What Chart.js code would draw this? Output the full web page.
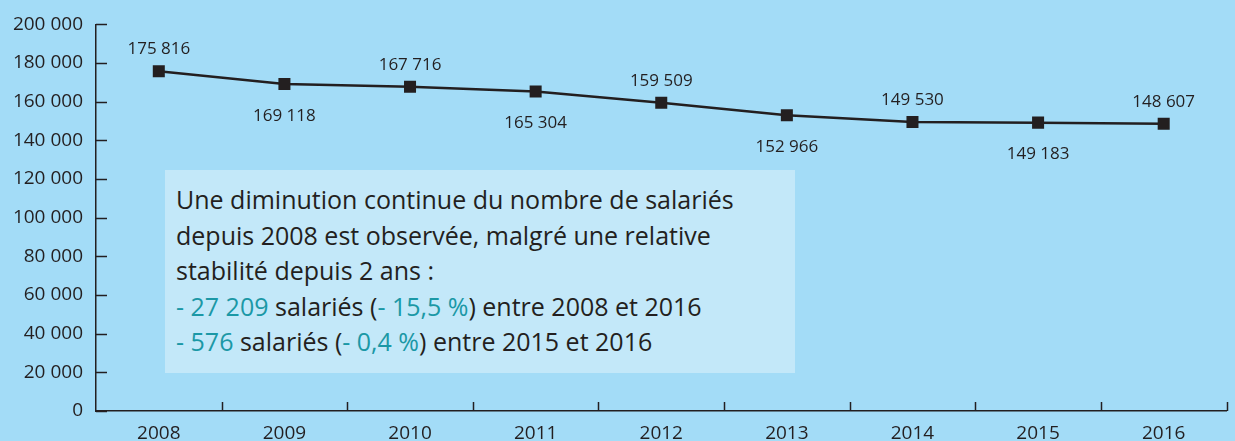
<!DOCTYPE html>
<html>
<head>
<meta charset="utf-8">
<script src="https://cdn.jsdelivr.net/npm/chart.js@4.4.1/dist/chart.umd.min.js"></script>
<style>
  html, body { margin: 0; padding: 0; background: #a3dcf7; }
  #wrap { position: relative; width: 1235px; height: 441px; overflow: hidden; }
  #salaries-chart { position: absolute; left: 0; top: 0; }
  .note {
    position: absolute; left: 165px; top: 170px; width: 630px; height: 203px;
    box-sizing: border-box; padding: 12px 0 0 11px;
    background: #c3e8f9; color: #231f20;
    font-family: "Open Sans", sans-serif; font-size: 25px; line-height: 35.5px;
    white-space: nowrap;
  }
  .note .hl { color: #1b98a6; }
</style>
</head>
<body>
<div id="wrap">
  <canvas id="salaries-chart" width="1235" height="441"></canvas>
  <div class="note" id="note"></div>
</div>
<script>
// données
const years = ['2008', '2009', '2010', '2011', '2012', '2013', '2014', '2015', '2016'];
const salaries = [175816, 169118, 167716, 165304, 159509, 152966, 149530, 149183, 148607];
const labelAbove = [true, false, true, false, true, false, true, false, true];
const yTicks = [0, 20000, 40000, 60000, 80000, 100000, 120000, 140000, 160000, 180000, 200000];

// texte de l'encadré : [texte, surligné ?]
const noteLines = [
  [['Une diminution continue du nombre de salariés', false]],
  [['depuis 2008 est observée, malgré une relative', false]],
  [['stabilité depuis 2 ans :', false]],
  [['- 27 209', true], [' salariés (', false], ['- 15,5 %', true], [') entre 2008 et 2016', false]],
  [['- 576', true], [' salariés (', false], ['- 0,4 %', true], [') entre 2015 et 2016', false]]
];

const dark = '#231f20';

function fmt(n) {
  return String(n).replace(/\B(?=(\d{3})+(?!\d))/g, ' ');
}

// encadré
const note = document.getElementById('note');
noteLines.forEach(line => {
  const div = document.createElement('div');
  line.forEach(part => {
    const span = document.createElement('span');
    span.textContent = part[0];
    if (part[1]) span.className = 'hl';
    div.appendChild(span);
  });
  note.appendChild(div);
});

// petits traits des axes (vers l'intérieur) + étiquettes des valeurs
const extrasPlugin = {
  id: 'extras',
  afterDraw(chart) {
    const c = chart.ctx;
    const x = chart.scales.x, y = chart.scales.y;
    c.save();
    c.strokeStyle = dark;
    c.lineWidth = 1.5;
    yTicks.forEach(v => {
      const py = Math.round(y.getPixelForValue(v)) + 0.5;
      c.beginPath();
      c.moveTo(x.left, py);
      c.lineTo(x.left + 11, py);
      c.stroke();
    });
    for (let i = 1; i <= years.length; i++) {
      const px = Math.round(x.getPixelForValue(i - 0.5)) + 0.5;
      c.beginPath();
      c.moveTo(px, y.bottom);
      c.lineTo(px, y.bottom - 9);
      c.stroke();
    }
    // valeurs
    c.fillStyle = dark;
    c.font = '17px "Open Sans"';
    c.textAlign = 'center';
    c.textBaseline = 'middle';
    const meta = chart.getDatasetMeta(0);
    meta.data.forEach((pt, i) => {
      const dy = labelAbove[i] ? -22 : 32;
      c.fillText(fmt(salaries[i]), pt.x, pt.y + dy);
    });
    c.restore();
  }
};

const ctx = document.getElementById('salaries-chart').getContext('2d');
Chart.defaults.font.family = '"Open Sans", sans-serif';
Chart.defaults.color = dark;

new Chart(ctx, {
  type: 'line',
  data: {
    labels: years,
    datasets: [{
      data: salaries,
      borderColor: dark,
      borderWidth: 2.5,
      pointStyle: 'rect',
      pointRadius: 8.5,
      pointBackgroundColor: dark,
      pointBorderColor: dark,
      pointBorderWidth: 0,
      tension: 0
    }]
  },
  options: {
    responsive: false,
    animation: false,
    layout: { padding: { top: 23, right: 6, left: 0, bottom: 0 } },
    plugins: { legend: { display: false }, tooltip: { enabled: false } },
    scales: {
      x: {
        offset: true,
        grid: { drawOnChartArea: false, drawTicks: false },
        border: { color: dark, width: 1.5 },
        ticks: { padding: 11, font: { size: 19 }, color: dark, maxRotation: 0 },
        afterFit(scale) { scale.height = 30; }
      },
      y: {
        min: 0,
        max: 200000,
        grid: { drawOnChartArea: false, drawTicks: false },
        border: { color: dark, width: 1.5 },
        ticks: {
          stepSize: 20000,
          padding: 13,
          font: { size: 19 },
          color: dark,
          callback: v => fmt(v)
        },
        afterFit(scale) { scale.width = 96; }
      }
    }
  },
  plugins: [extrasPlugin]
});
</script>
</body>
</html>
